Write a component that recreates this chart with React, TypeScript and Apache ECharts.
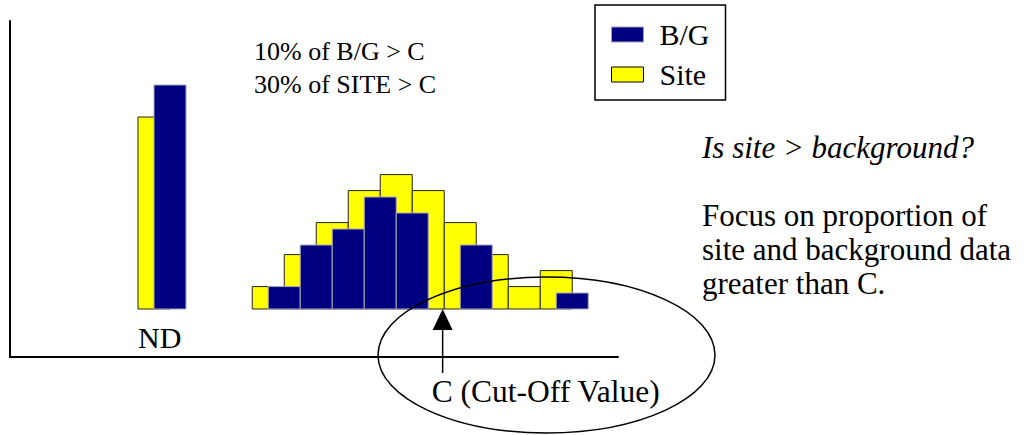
import React, { useEffect, useRef } from "react";
import * as echarts from "echarts";

// ---- data ----
const seriesNames = ["B/G", "Site"];
const ndLabel = "ND";
const ndSite = 12;
const ndBG = 14;
const histSite = [1.4, 3.4, 5.4, 7.4, 8.4, 7.4, 5.4, 3.4, 1.4, 2.4];
const histBG = [1.4, 4, 5, 7, 6, 0, 4, 0, 0, 1];
const cutOffLabel = "C (Cut-Off Value)";
const statLines = ["10% of B/G > C", "30% of SITE > C"];
const question = "Is site > background?";
const noteLines = ["Focus on proportion of", "site and background data", "greater than C."];

// ---- layout (axis units) ----
const ndPos = 4;
const histStart = 7.57;
const cutOff = 13.52;
const barBase = 3;

const FONT = "Liberation Serif";
const NAVY = "#000080";
const YELLOW = "#ffff00";

export default function App() {
  const ref = useRef<HTMLDivElement>(null);
  useEffect(() => {
    document.body.style.margin = "0";
    const chart = echarts.init(ref.current!, null, { renderer: "svg" });

    const siteData: number[][] = [[ndPos, ndSite], ...histSite.map((v, i) => [histStart + i, v])];
    const bgData: number[][] = [[ndPos + 0.5, ndBG], ...histBG.map((v, i) => [histStart + 0.5 + i, v])].filter(
      (d) => d[1] > 0
    );

    const makeRender = (fill: string, stroke: string) => (params: any, api: any) => {
      const x0 = api.value(0);
      const v = api.value(1);
      const p0 = api.coord([x0, barBase]);
      const p1 = api.coord([x0 + 1, barBase + v]);
      return {
        type: "rect",
        shape: { x: p0[0], y: p1[1], width: p1[0] - p0[0], height: p0[1] - p1[1] },
        style: { fill, stroke, lineWidth: 1 },
      };
    };

    chart.setOption({
      animation: false,
      backgroundColor: "#ffffff",
      textStyle: { fontFamily: FONT },
      grid: { left: 10, top: 21, width: 608, height: 336 },
      xAxis: {
        type: "value",
        min: 0,
        max: 19,
        axisLine: { show: true, lineStyle: { color: "#000", width: 2 } },
        axisTick: { show: false },
        axisLabel: { show: false },
        splitLine: { show: false },
      },
      yAxis: {
        type: "value",
        min: 0,
        max: 21,
        axisLine: { show: true, lineStyle: { color: "#000", width: 2 } },
        axisTick: { show: false },
        axisLabel: { show: false },
        splitLine: { show: false },
      },
      legend: {
        orient: "vertical",
        left: 595,
        top: 5,
        selectedMode: false,
        itemWidth: 32,
        itemHeight: 15,
        itemGap: 10,
        padding: [14.5, 16, 10.5, 16],
        borderColor: "#000",
        borderWidth: 1.5,
        textStyle: { fontFamily: FONT, fontSize: 30, color: "#000", padding: [0, 0, 0, 11] },
        data: [
          { name: seriesNames[0], icon: "rect", itemStyle: { color: NAVY, borderColor: "#a0a0b0", borderWidth: 1 } },
          { name: seriesNames[1], icon: "rect", itemStyle: { color: YELLOW, borderColor: "#000", borderWidth: 1 } },
        ],
      },
      series: [
        {
          name: seriesNames[1],
          type: "custom",
          renderItem: makeRender(YELLOW, "#222"),
          itemStyle: { color: YELLOW },
          encode: { x: 0, y: 1 },
          data: siteData,
          z: 2,
        },
        {
          name: seriesNames[0],
          type: "custom",
          renderItem: makeRender(NAVY, "#a8a8b8"),
          itemStyle: { color: NAVY },
          encode: { x: 0, y: 1 },
          data: bgData,
          z: 3,
        },
      ],
    });

    const tip = chart.convertToPixel({ gridIndex: 0 }, [cutOff, barBase]) as number[];
    const nd = chart.convertToPixel({ gridIndex: 0 }, [ndPos, 0]) as number[];
    const txt = (text: string, x: number, baseline: number, size: number, extra: any = {}) => ({
      type: "text",
      x,
      y: baseline - 0.3375 * size,
      z: 20,
      style: {
        text,
        fontFamily: FONT,
        fontSize: size,
        fontStyle: extra.italic ? "italic" : "normal",
        fill: "#000",
        align: extra.align || "left",
        verticalAlign: "middle",
      },
    });

    chart.setOption({
      graphic: [
        txt(statLines[0], 254, 60.7, 26),
        txt(statLines[1], 254, 93.3, 26),
        txt(question, 702, 158, 31, { italic: true }),
        txt(noteLines[0], 702, 226, 31),
        txt(noteLines[1], 702, 260, 31),
        txt(noteLines[2], 702, 294, 31),
        txt(ndLabel, nd[0], 347.3, 30),
        txt(cutOffLabel, tip[0] - 11, 401.7, 31.5),
        {
          type: "polygon",
          z: 20,
          shape: { points: [[tip[0], tip[1]], [tip[0] - 10, tip[1] + 21], [tip[0] + 10, tip[1] + 21]] },
          style: { fill: "#000" },
        },
        {
          type: "line",
          z: 20,
          shape: { x1: tip[0], y1: tip[1] + 20, x2: tip[0], y2: tip[1] + 64 },
          style: { stroke: "#000", lineWidth: 1.5 },
        },
        {
          type: "ellipse",
          z: 20,
          shape: { cx: 546.5, cy: 355, rx: 168.5, ry: 78 },
          style: { fill: "none", stroke: "#000", lineWidth: 1.5 },
        },
      ],
    });

    return () => chart.dispose();
  }, []);
  return <div ref={ref} style={{ width: 1033, height: 435 }} />;
}
